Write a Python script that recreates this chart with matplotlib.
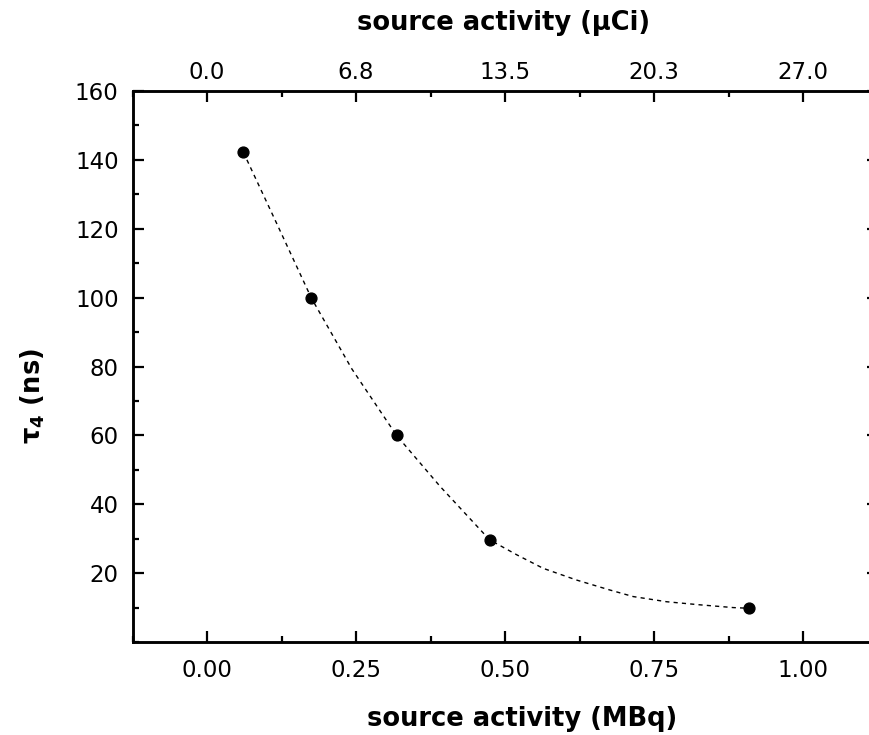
import matplotlib

matplotlib.use("Agg")
import matplotlib.pyplot as plt
from matplotlib.ticker import MultipleLocator

# measured points: source activity (MBq) vs tau_4 (ns)
ACTIVITY_MBQ = [0.061, 0.175, 0.318, 0.474, 0.909]
TAU4_NS = [142.2, 99.9, 60.0, 29.7, 9.8]

# dashed guide curve
CURVE_MBQ = [0.061, 0.117, 0.175, 0.243, 0.318, 0.391, 0.474, 0.520, 0.564,
             0.620, 0.676, 0.715, 0.771, 0.827, 0.883, 0.909]
CURVE_NS = [142.2, 121.5, 99.9, 79.3, 60.0, 45.2, 29.7, 25.3, 21.4,
            18.0, 15.1, 13.2, 11.7, 10.8, 10.0, 9.8]

BOTTOM_TICKS = [0.00, 0.25, 0.50, 0.75, 1.00]
BOTTOM_LABELS = ["0.00", "0.25", "0.50", "0.75", "1.00"]
TOP_LABELS = ["0.0", "6.8", "13.5", "20.3", "27.0"]
Y_TICKS = [20, 40, 60, 80, 100, 120, 140, 160]

plt.rcParams.update(
    {
        "font.family": ["DejaVu Sans"],
        "mathtext.fontset": "custom",
        "mathtext.rm": "DejaVu Sans",
        "mathtext.bf": "DejaVu Sans:bold",
        "mathtext.default": "regular",
    }
)

fig = plt.figure(figsize=(8.69, 7.35), dpi=100)
ax = fig.add_axes([0.1525, 0.1265, 0.8573, 0.7497])

ax.plot(CURVE_MBQ, CURVE_NS, color="black", linewidth=1.0, dashes=(3.0, 3.0))
ax.plot(ACTIVITY_MBQ, TAU4_NS, "o", color="black", markersize=7.8, linestyle="none")

ax.set_xlim(-0.125, 1.125)
ax.set_ylim(0, 160)
ax.set_xticks(BOTTOM_TICKS)
ax.set_xticklabels(BOTTOM_LABELS)
ax.xaxis.set_minor_locator(MultipleLocator(0.125))
ax.set_yticks(Y_TICKS)
ax.yaxis.set_minor_locator(MultipleLocator(10))

for spine in ax.spines.values():
    spine.set_linewidth(1.8)

ax.tick_params(which="both", direction="in", top=False, right=True, width=1.6, colors="black")
ax.tick_params(which="major", length=8)
ax.tick_params(which="minor", length=4)
ax.tick_params(axis="x", which="major", labelsize=16.5, pad=12)
ax.tick_params(axis="y", which="major", labelsize=16.5, pad=10)

top = ax.twiny()
top.set_xlim(ax.get_xlim())
top.set_xticks(BOTTOM_TICKS)
top.set_xticklabels(TOP_LABELS)
top.xaxis.set_minor_locator(MultipleLocator(0.125))
top.tick_params(which="both", direction="in", width=1.6)
top.tick_params(which="major", length=8, labelsize=16.5, pad=5)
top.tick_params(which="minor", length=4)
for spine in top.spines.values():
    spine.set_linewidth(1.8)

ax.set_xlabel("source activity (MBq)", fontsize=18.5, fontweight="bold")
ax.xaxis.set_label_coords(0.5235, -0.116)
top.set_xlabel("source activity (μCi)", fontsize=18.5, fontweight="bold")
top.xaxis.set_label_coords(0.4977, 1.11)
ax.set_ylabel("τ$_4$ (ns)", fontsize=18.5, fontweight="bold")
ax.yaxis.set_label_coords(-0.115, 0.4465)

fig.savefig("out.png", dpi=100)
